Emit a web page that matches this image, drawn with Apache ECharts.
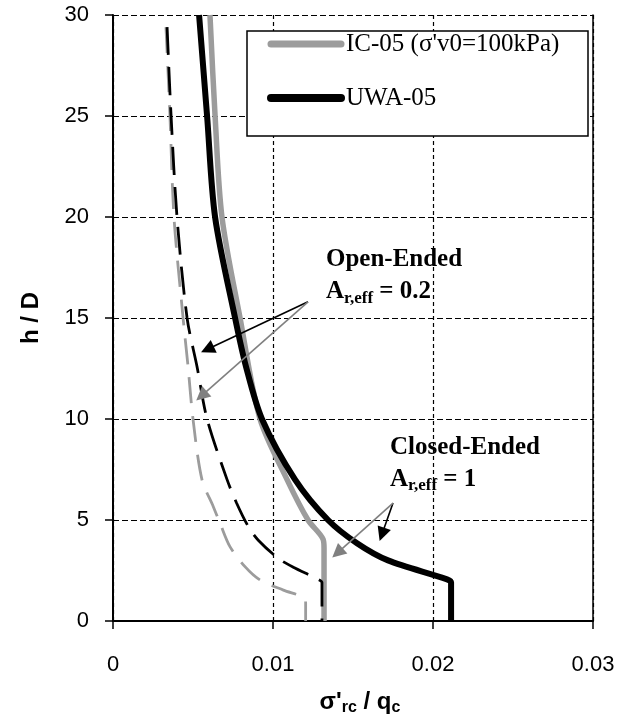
<!DOCTYPE html>
<html>
<head>
<meta charset="utf-8">
<script src="https://cdn.jsdelivr.net/npm/echarts@6/dist/echarts.min.js"></script>
<style>
  html, body { margin: 0; padding: 0; background: #fff; }
  #chart { width: 640px; height: 717px; }
</style>
</head>
<body>
<div id="chart"></div>
<script>
// [sigma'rc/qc, h/D]
const icClosed = [[0.00606, 30], [0.00638, 25], [0.00681, 20], [0.00794, 15], [0.00919, 10],
  [0.01088, 7], [0.01219, 5], [0.01313, 4.05], [0.01319, 3.6], [0.01319, 0]];
const icOpen = [[0.00331, 29.4], [0.00356, 25], [0.00381, 20], [0.00438, 15], [0.00469, 12.6],
  [0.005, 10], [0.00556, 7], [0.00627, 5.66], [0.00669, 4.84], [0.00731, 3.68], [0.00825, 2.69],
  [0.00919, 2.03], [0.01065, 1.53], [0.012, 1.12], [0.01204, 0.9], [0.01204, 0]];
const uwaOpen = [[0.00338, 29.4], [0.00363, 25], [0.004, 20], [0.00463, 15], [0.00525, 12.6],
  [0.00588, 10], [0.00713, 7], [0.00773, 5.83], [0.00846, 4.67], [0.00908, 4.0], [0.01033, 3.1],
  [0.01127, 2.66], [0.01283, 2.06], [0.01306, 1.9], [0.01306, 0]];
const uwaClosed = [[0.00538, 30], [0.00588, 25], [0.00638, 20], [0.00763, 15], [0.00831, 12.6],
  [0.00931, 10], [0.01138, 7], [0.01344, 5], [0.01525, 3.85], [0.01719, 3.0], [0.02088, 2.06],
  [0.02113, 1.9], [0.02113, 0]];

const xTickLabels = ['0', '0.01', '0.02', '0.03'];
const legendNames = ["IC-05 (σ'v0=100kPa)", 'UWA-05'];

// annotation arrows: [from, to] (to = centre of the arrow head)
const openArrowBlack = [[0.01219, 15.8], [0.0059, 13.45]];
const openArrowGray = [[0.01219, 15.8], [0.00553, 11.14]];
const closedArrowBlack = [[0.0175, 5.84], [0.01681, 4.29]];
const closedArrowGray = [[0.0175, 5.84], [0.01403, 3.37]];

// annotation text anchors (left edge, vertical middle)
const openTitleAt = [0.01331, 17.9];
const openSubAt = [0.01331, 16.3];
const closedTitleAt = [0.01731, 8.6];
const closedSubAt = [0.01731, 7.0];

const GRAY = '#9c9c9c';
const ARROW_GRAY = '#808080';
const SANS = '"Liberation Sans", Arial, sans-serif';
const SERIF = '"Liberation Serif", "Times New Roman", serif';

const chart = echarts.init(document.getElementById('chart'));

const arrow = (pts, color) => [
  { coord: pts[0], lineStyle: { color: color } },
  { coord: pts[1] }
];

const option = {
  animation: false,
  backgroundColor: '#fff',
  grid: { left: 113, right: 47, top: 15, bottom: 96, outerBoundsMode: 'none' },
  legend: {
    orient: 'vertical',
    left: 267,
    top: 30,
    padding: 0,
    itemWidth: 70,
    itemHeight: 14,
    itemGap: 26,
    selectedMode: false,
    z: 10,
    textStyle: { fontFamily: SERIF, fontSize: 25, color: '#000', lineHeight: 28 },
    data: [
      { name: legendNames[0], itemStyle: { opacity: 0 }, lineStyle: { width: 7, cap: 'round', color: GRAY } },
      { name: legendNames[1], itemStyle: { opacity: 0 }, lineStyle: { width: 8, cap: 'round', color: '#000' } }
    ]
  },
  xAxis: {
    type: 'value',
    min: 0,
    max: 0.03,
    interval: 0.01,
    name: "{b|σ'}{s|rc}{b| / q}{s|c}",
    nameLocation: 'middle',
    nameGap: 67,
    nameTextStyle: {
      padding: [0, 0, 0, 14],
      rich: {
        b: { fontFamily: SANS, fontWeight: 'bold', fontSize: 24, lineHeight: 28, color: '#000' },
        s: { fontFamily: SANS, fontWeight: 'bold', fontSize: 16, lineHeight: 16, verticalAlign: 'bottom', color: '#000' }
      }
    },
    axisLine: { lineStyle: { color: '#000', width: 2 } },
    axisTick: { show: true, inside: false, length: 8, lineStyle: { color: '#000', width: 1.5 } },
    axisLabel: {
      margin: 33,
      fontFamily: SANS,
      fontSize: 22,
      color: '#000',
      formatter: (v, i) => xTickLabels[i]
    },
    splitLine: { show: true, lineStyle: { color: '#000', width: 1.2, type: [4, 3] } }
  },
  yAxis: [
    {
      type: 'value',
      min: 0,
      max: 30,
      interval: 5,
      name: 'h / D',
      nameLocation: 'middle',
      nameGap: 70,
      nameTextStyle: { fontFamily: SANS, fontWeight: 'bold', fontSize: 24, color: '#000' },
      axisLine: { show: true, lineStyle: { color: '#000', width: 2 } },
      axisTick: { show: true, inside: false, length: 8, lineStyle: { color: '#000', width: 1.5 } },
      axisLabel: { margin: 24, fontFamily: SANS, fontSize: 22, color: '#000' },
      splitLine: { show: true, lineStyle: { color: '#000', width: 1.2, type: [6, 3] } }
    },
    {
      type: 'value',
      min: 0,
      max: 30,
      position: 'right',
      axisLine: { show: true, lineStyle: { color: '#000', width: 1.5 } },
      axisTick: { show: false },
      axisLabel: { show: false },
      splitLine: { show: false }
    }
  ],
  series: [
    {
      name: legendNames[0],
      type: 'line',
      data: icClosed,
      symbol: 'none',
      smooth: 0.3,
      color: GRAY,
      lineStyle: { width: 5.5, color: GRAY },
      z: 3
    },
    {
      name: 'IC-05 open',
      type: 'line',
      data: icOpen,
      symbol: 'none',
      smooth: 0.3,
      color: GRAY,
      lineStyle: { width: 2.8, color: GRAY, type: [26, 13] },
      z: 3
    },
    {
      name: 'UWA-05 open',
      type: 'line',
      data: uwaOpen,
      symbol: 'none',
      smooth: 0.3,
      color: '#000',
      lineStyle: { width: 2.8, color: '#000', type: [28, 12] },
      z: 4
    },
    {
      name: legendNames[1],
      type: 'line',
      data: uwaClosed,
      symbol: 'none',
      smooth: 0.3,
      color: '#000',
      lineStyle: { width: 6, color: '#000' },
      z: 4
    },
    {
      name: 'arrows',
      type: 'line',
      data: [],
      z: 6,
      markLine: {
        silent: true,
        symbol: ['none', 'triangle'],
        symbolSize: 14,
        label: { show: false },
        lineStyle: { type: 'solid', width: 1.6, color: '#000' },
        data: [
          arrow(openArrowBlack, '#000'),
          arrow(openArrowGray, ARROW_GRAY),
          arrow(closedArrowBlack, '#000'),
          arrow(closedArrowGray, ARROW_GRAY)
        ]
      }
    }
  ]
};

chart.setOption(option);

// legend frame and annotation texts, placed through the chart's own scales
const px = (p) => chart.convertToPixel({ gridIndex: 0 }, p);
const subRich = {
  s: { fontFamily: SERIF, fontWeight: 'bold', fontSize: 17, lineHeight: 17, verticalAlign: 'bottom', fill: '#000' }
};
const note = (at, text, rich) => {
  const p = px(at);
  return {
    type: 'text',
    x: p[0],
    y: p[1],
    z: 8,
    style: {
      text: text,
      fontFamily: SERIF,
      fontWeight: 'bold',
      fontSize: 25,
      lineHeight: 30,
      fill: '#000',
      align: 'left',
      verticalAlign: 'middle',
      rich: rich
    }
  };
};

chart.setOption({
  graphic: [
    {
      type: 'rect',
      shape: { x: 247, y: 31, width: 341, height: 105 },
      style: { fill: '#fff', stroke: '#000', lineWidth: 1.5 },
      z: 5
    },
    note(openTitleAt, 'Open-Ended'),
    note(openSubAt, 'A{s|r,eff} = 0.2', subRich),
    note(closedTitleAt, 'Closed-Ended'),
    note(closedSubAt, 'A{s|r,eff} = 1', subRich)
  ]
});
</script>
</body>
</html>
